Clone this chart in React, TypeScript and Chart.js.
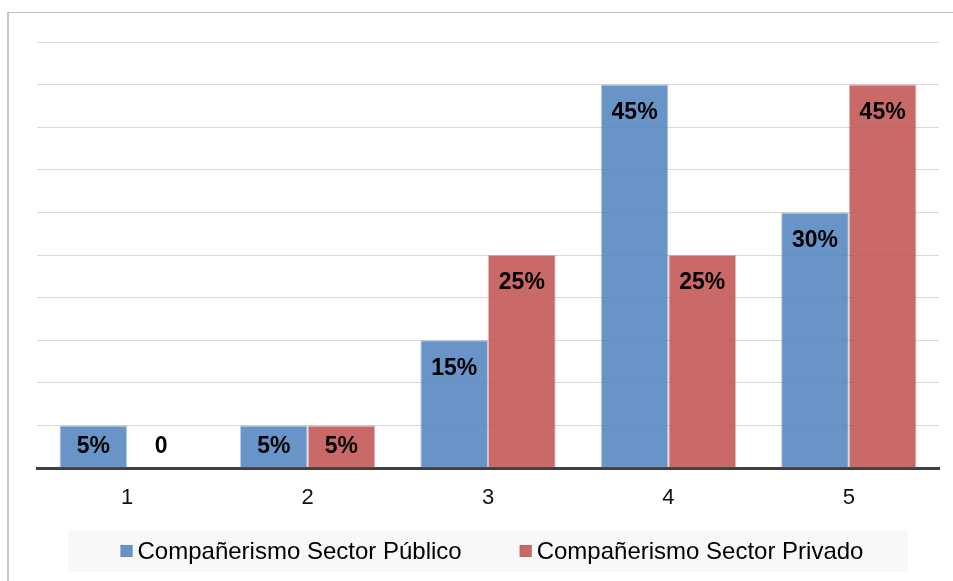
import React, { useEffect, useRef } from 'react';
import { Chart, registerables } from 'chart.js';

Chart.register(...registerables);

const categories = ['1', '2', '3', '4', '5'];
const publicValues = [5, 5, 15, 45, 30];
const privateValues = [0, 5, 25, 25, 45];
const seriesNames = ['Compañerismo Sector Público', 'Compañerismo Sector Privado'];
const yMax = 50;
const yStep = 5;

const FONT = '"Liberation Sans", Arial, sans-serif';
const BLUE = 'rgba(79,129,189,0.85)';
const RED = 'rgba(192,80,77,0.85)';
const BLUE_BORDER = 'rgba(79,129,189,0.4)';
const RED_BORDER = 'rgba(192,80,77,0.4)';

const valueLabels = {
  id: 'valueLabels',
  afterDatasetsDraw(chart: any) {
    const ctx = chart.ctx;
    const base = chart.scales.y.getPixelForValue(0);
    ctx.save();
    ctx.font = `bold 23px ${FONT}`;
    ctx.fillStyle = '#000';
    ctx.textAlign = 'center';
    ctx.textBaseline = 'middle';
    chart.data.datasets.forEach((ds: any, i: number) => {
      const meta = chart.getDatasetMeta(i);
      meta.data.forEach((bar: any, j: number) => {
        const v = ds.data[j];
        const text = v === 0 ? '0' : `${v}%`;
        const y = Math.min(bar.y + 28, base - 21);
        ctx.fillText(text, bar.x, y);
      });
    });
    ctx.restore();
  },
};

const legendBox = {
  id: 'legendBox',
  afterDraw(chart: any) {
    const ctx = chart.ctx;
    const area = chart.chartArea;
    const top = chart.height - 51;
    const h = 42;
    const left = area.left + 31;
    const right = area.right - 31;
    ctx.save();
    ctx.fillStyle = '#f8f8f8';
    ctx.fillRect(left, top, right - left, h);
    ctx.font = `24px ${FONT}`;
    ctx.textBaseline = 'middle';
    ctx.textAlign = 'left';
    const box = 12;
    const gapText = 5;
    const gapItems = 58;
    const colors = [BLUE, RED];
    const borders = [BLUE_BORDER, RED_BORDER];
    const widths = seriesNames.map((s) => ctx.measureText(s).width);
    const total = widths.reduce((a: number, w: number) => a + box + gapText + w, 0) + gapItems * (seriesNames.length - 1);
    const cx = (area.left + area.right) / 2 + 4;
    let x = cx - total / 2;
    const cy = top + h / 2;
    seriesNames.forEach((s, i) => {
      ctx.fillStyle = colors[i];
      ctx.fillRect(x, cy - box / 2, box, box);
      ctx.strokeStyle = borders[i];
      ctx.lineWidth = 1;
      ctx.strokeRect(x + 0.5, cy - box / 2 + 0.5, box - 1, box - 1);
      x += box + gapText;
      ctx.fillStyle = '#000';
      ctx.fillText(s, x, cy + 1);
      x += widths[i] + gapItems;
    });
    ctx.restore();
  },
};

export default function App() {
  const canvasRef = useRef<HTMLCanvasElement | null>(null);

  useEffect(() => {
    const canvas = canvasRef.current;
    if (!canvas) return;
    const chart = new Chart(canvas, {
      type: 'bar',
      data: {
        labels: categories,
        datasets: [
          {
            label: seriesNames[0],
            data: publicValues,
            backgroundColor: BLUE,
            borderColor: BLUE_BORDER,
            borderWidth: (c: any) => (c.raw === 0 ? 0 : 1),
            borderSkipped: 'bottom',
          },
          {
            label: seriesNames[1],
            data: privateValues,
            backgroundColor: RED,
            borderColor: RED_BORDER,
            borderWidth: (c: any) => (c.raw === 0 ? 0 : 1),
            borderSkipped: 'bottom',
          },
        ],
      },
      options: {
        animation: false,
        responsive: false,
        devicePixelRatio: 1,
        layout: { padding: { left: 37, right: 14, top: 42, bottom: 73 } },
        datasets: { bar: { categoryPercentage: 0.75, barPercentage: 1 } },
        plugins: {
          legend: { display: false },
          tooltip: { enabled: false },
        },
        scales: {
          x: {
            grid: { display: false, drawTicks: false },
            border: { display: true, color: '#404040', width: 3 },
            ticks: {
              color: '#111',
              font: { family: FONT, size: 22 },
              padding: 17,
            },
            afterFit: (scale: any) => {
              scale.height = 40;
            },
          },
          y: {
            min: 0,
            max: yMax,
            ticks: { display: false, stepSize: yStep },
            grid: { color: '#d9d9d9', lineWidth: 1, drawTicks: false },
            border: { display: false },
          },
        },
      },
      plugins: [valueLabels, legendBox],
    } as any);
    return () => chart.destroy();
  }, []);

  return (
    <div style={{ position: 'fixed', left: 0, top: 0, width: '100vw', height: '100vh', overflow: 'hidden', background: '#fff' }}>
      <div
        style={{
          position: 'absolute',
          left: 7,
          top: 12,
          width: 2000,
          height: 2000,
          borderLeft: '2px solid #c8c8c8',
          borderTop: '1px solid #c0c0c0',
        }}
      />
      <canvas
        ref={canvasRef}
        width={953}
        height={581}
        style={{ position: 'absolute', left: 0, top: 0, width: 953, height: 581 }}
      />
    </div>
  );
}
